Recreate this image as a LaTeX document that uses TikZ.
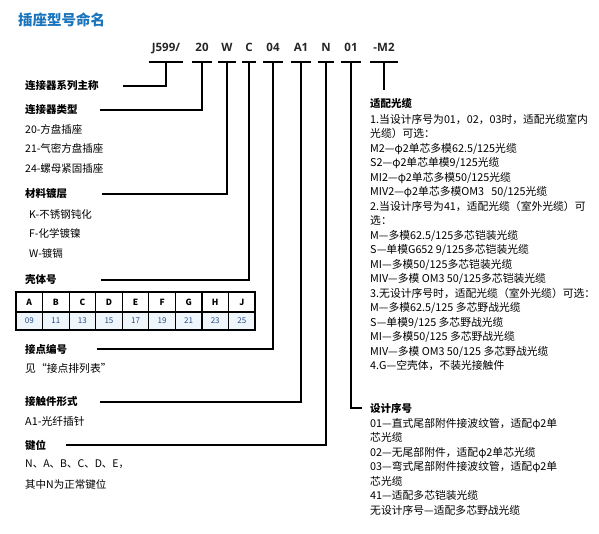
\documentclass[tikz,border=0pt]{standalone}
\usepackage{fontspec}
\setmainfont{Noto Sans CJK SC}
\newfontfamily\codefont{Open Sans}
\usetikzlibrary{positioning,calc}
\definecolor{titleblue}{HTML}{1B75BC}
\definecolor{numblue}{HTML}{2A4A8A}
\definecolor{cellblue}{HTML}{EEF6FB}

\begin{document}
\begin{tikzpicture}[x=1pt,y=-1pt,
  lbl/.style={anchor=west, inner sep=0pt, font=\fontsize{10.5}{12}\selectfont\bfseries},
  body/.style={anchor=north west, inner sep=0pt, align=left, font=\fontsize{10.8}{14.5}\selectfont},
  leftbody/.style={body, font=\fontsize{10.5}{19.5}\selectfont},
  code/.style={inner xsep=3pt, inner ysep=0pt, minimum height=30pt, text height=8.5pt, text depth=0pt,
               font=\codefont\fontsize{11.5}{13}\selectfont\bfseries, text=black!85},
  conn/.style={line width=1.6pt},
  thead/.style={draw, line width=1.2pt, minimum width=26.56pt, minimum height=20pt, inner sep=0pt,
                font=\fontsize{8.5}{9}\selectfont\bfseries},
  tcell/.style={draw, line width=1.2pt, fill=cellblue, minimum width=26.56pt, minimum height=18pt,
                inner sep=0pt, text=numblue, font=\fontsize{8}{9}\selectfont}
]
\useasboundingbox (0,0) rectangle (599,533);

% title
\node[anchor=west, inner sep=0pt, text=titleblue, font=\fontsize{14.5}{16}\selectfont\bfseries] (title) at (18,20) {插座型号命名};

% code row
\node[code] (j599) at (166,47) {J599/};
\node[code] (c20)  at (202,47) {20};
\node[code] (cw)   at (227,47) {W};
\node[code] (cc)   at (249,47) {C};
\node[code] (c04)  at (273,47) {04};
\node[code] (ca1)  at (301,47) {A1};
\node[code] (cn)   at (326,47) {N};
\node[code] (c01)  at (351,47) {01};
\node[code] (cm2)  at (384,47) {-M2};
\foreach \c in {j599,c20,cw,cc,c04,ca1,cn,c01,cm2}
  \draw[conn] (\c.south west) -- (\c.south east);

% left column
\node[lbl] (series) at (25,86) {连接器系列主称};
\node[lbl] (ctype) at (25,110) {连接器类型};
\node[leftbody] (typelist) at (25,124) {20-方盘插座\\21-气密方盘插座\\24-螺母紧固插座};
\node[lbl] (plating) at (25,194) {材料镀层};
\node[leftbody] (platelist) at (29,209) {K-不锈钢钝化\\F-化学镀镍\\W-镀镉};
\node[lbl] (shell) at (25,280) {壳体号};
\foreach \l/\v [count=\i] in {A/09,B/11,C/13,D/15,E/17,F/19,G/21,H/23,J/25} {
  \node[thead] (h\l) at ({16+26.56*(\i-0.5)},302) {\l};
  \node[tcell] (v\l) at ({16+26.56*(\i-0.5)},321) {\v};
}
\node[lbl] (contact) at (25,349) {接点编号};
\node[body, anchor=west] (contactnote) at (25,368) {见“接点排列表”};
\node[lbl] (cform) at (25,402) {接触件形式};
\node[body, anchor=west] (formnote) at (25,421) {A1-光纤插针};
\node[lbl] (key) at (25,445) {键位};
\node[body, font=\fontsize{10.5}{21}\selectfont] (keylist) at (25,459) {N、A、B、C、D、E，\\其中N为正常键位};

% right column
\node[lbl] (cable) at (370,103) {适配光缆};
\node[body] (cablelist) at (370,114) {1.当设计序号为01，02，03时，适配光缆室内\\
光缆）可选：\\
M2—φ2单芯多模62.5/125光缆\\
S2—φ2单芯单模9/125光缆\\
MI2—φ2单芯多模50/125光缆\\
MIV2—φ2单芯多模OM3\ \ \ 50/125光缆\\
2.当设计序号为41，适配光缆（室外光缆）可\\
选：\\
M—多模62.5/125多芯铠装光缆\\
S—单模G652 9/125多芯铠装光缆\\
MI—多模50/125多芯铠装光缆\\
MIV—多模 OM3 50/125多芯铠装光缆\\
3.无设计序号时，适配光缆（室外光缆）可选：\\
M—多模62.5/125 多芯野战光缆\\
S—单模9/125 多芯野战光缆\\
MI—多模50/125 多芯野战光缆\\
MIV—多模 OM3 50/125 多芯野战光缆\\
4.G—空壳体，不装光接触件};
\node[lbl] (design) at (370,408) {设计序号};
\node[body] (designlist) at (370,418) {01—直式尾部附件接波纹管，适配φ2单\\
芯光缆\\
02—无尾部附件，适配φ2单芯光缆\\
03—弯式尾部附件接波纹管，适配φ2单\\
芯光缆\\
41—适配多芯铠装光缆\\
无设计序号—适配多芯野战光缆};

% connectors
\draw[conn] (j599.south) |- ([xshift=24.5]series.east);
\draw[conn] (c20.south) |- ([xshift=22.5]ctype.east);
\draw[conn] (cw.south) |- ([xshift=35]plating.east);
\draw[conn] (cc.south) |- ([xshift=44.5]shell.east);
\draw[conn] (c04.south) |- ([xshift=30]contact.east);
\draw[conn] (ca1.south) |- ([xshift=22.5]cform.east);
\draw[conn] (cn.south) |- ([xshift=20]key.east);
\draw[conn] (c01.south) |- ([xshift=-8]design.west);
\draw[conn] (cm2.south) -- ([yshift=8]cable.north -| cm2.south);
\end{tikzpicture}
\end{document}
